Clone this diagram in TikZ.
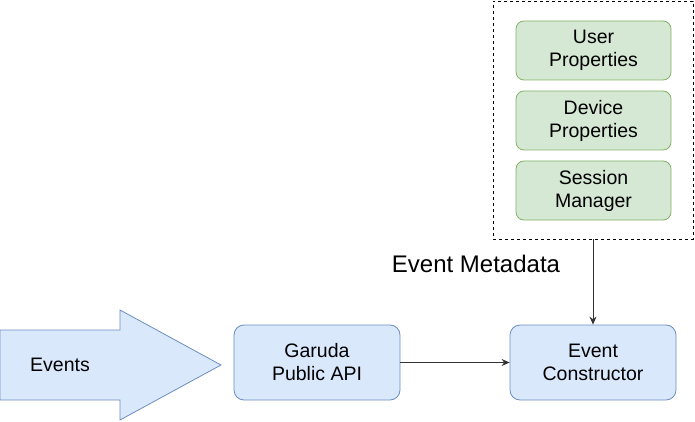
\documentclass[tikz,border=0pt]{standalone}
\usepackage{fontspec}
\setmainfont{Liberation Sans}
\usetikzlibrary{arrows.meta}
\definecolor{boxblue}{HTML}{DAE8FC}
\definecolor{lineblue}{HTML}{6C8EBF}
\definecolor{boxgreen}{HTML}{D5E8D4}
\definecolor{linegreen}{HTML}{82B366}
\definecolor{wiregray}{HTML}{333333}
\newcommand{\boxfont}{\fontsize{19.5}{23}\selectfont}

\begin{document}
\begin{tikzpicture}[x=1pt,y=-1pt,>={Stealth[length=8pt,width=7pt]},
  bluebox/.style={draw=lineblue,fill=boxblue,rounded corners=10pt,minimum width=166pt,minimum height=75pt,align=center,font=\boxfont,line width=.8pt},
  greenbox/.style={draw=linegreen,fill=boxgreen,rounded corners=8pt,minimum width=155pt,minimum height=59pt,align=center,font=\boxfont,line width=.8pt},
  wire/.style={->,wiregray,line width=1pt}]
 \useasboundingbox (0,0) rectangle (695,422);
 \filldraw[fill=boxblue,draw=lineblue,line width=.8pt] (0,330)--(120,330)--(120,310)--(221,365)--(120,420)--(120,400)--(0,400)--cycle;
 \node[font=\boxfont] (events) at (60,365) {Events};
 \node[bluebox] (api) at (317,362.5) {Garuda\\Public API};
 \node[bluebox] (ctor) at (593,362.5) {Event\\Constructor};
 \node[draw,dash pattern=on 3pt off 3pt,line width=.8pt,minimum width=200pt,minimum height=238pt] (meta) at (593,120) {};
 \node[greenbox] (user) at (593.5,50.5) {User\\Properties};
 \node[greenbox] (device) at (593.5,120.5) {Device\\Properties};
 \node[greenbox] (session) at (593.5,190.5) {Session\\Manager};
 \node[font=\fontsize{24}{28}\selectfont] (metalabel) at (476,264) {Event Metadata};
 \draw[wire] (api) -- (ctor);
 \draw[wire] (meta) -- (ctor);
\end{tikzpicture}
\end{document}
